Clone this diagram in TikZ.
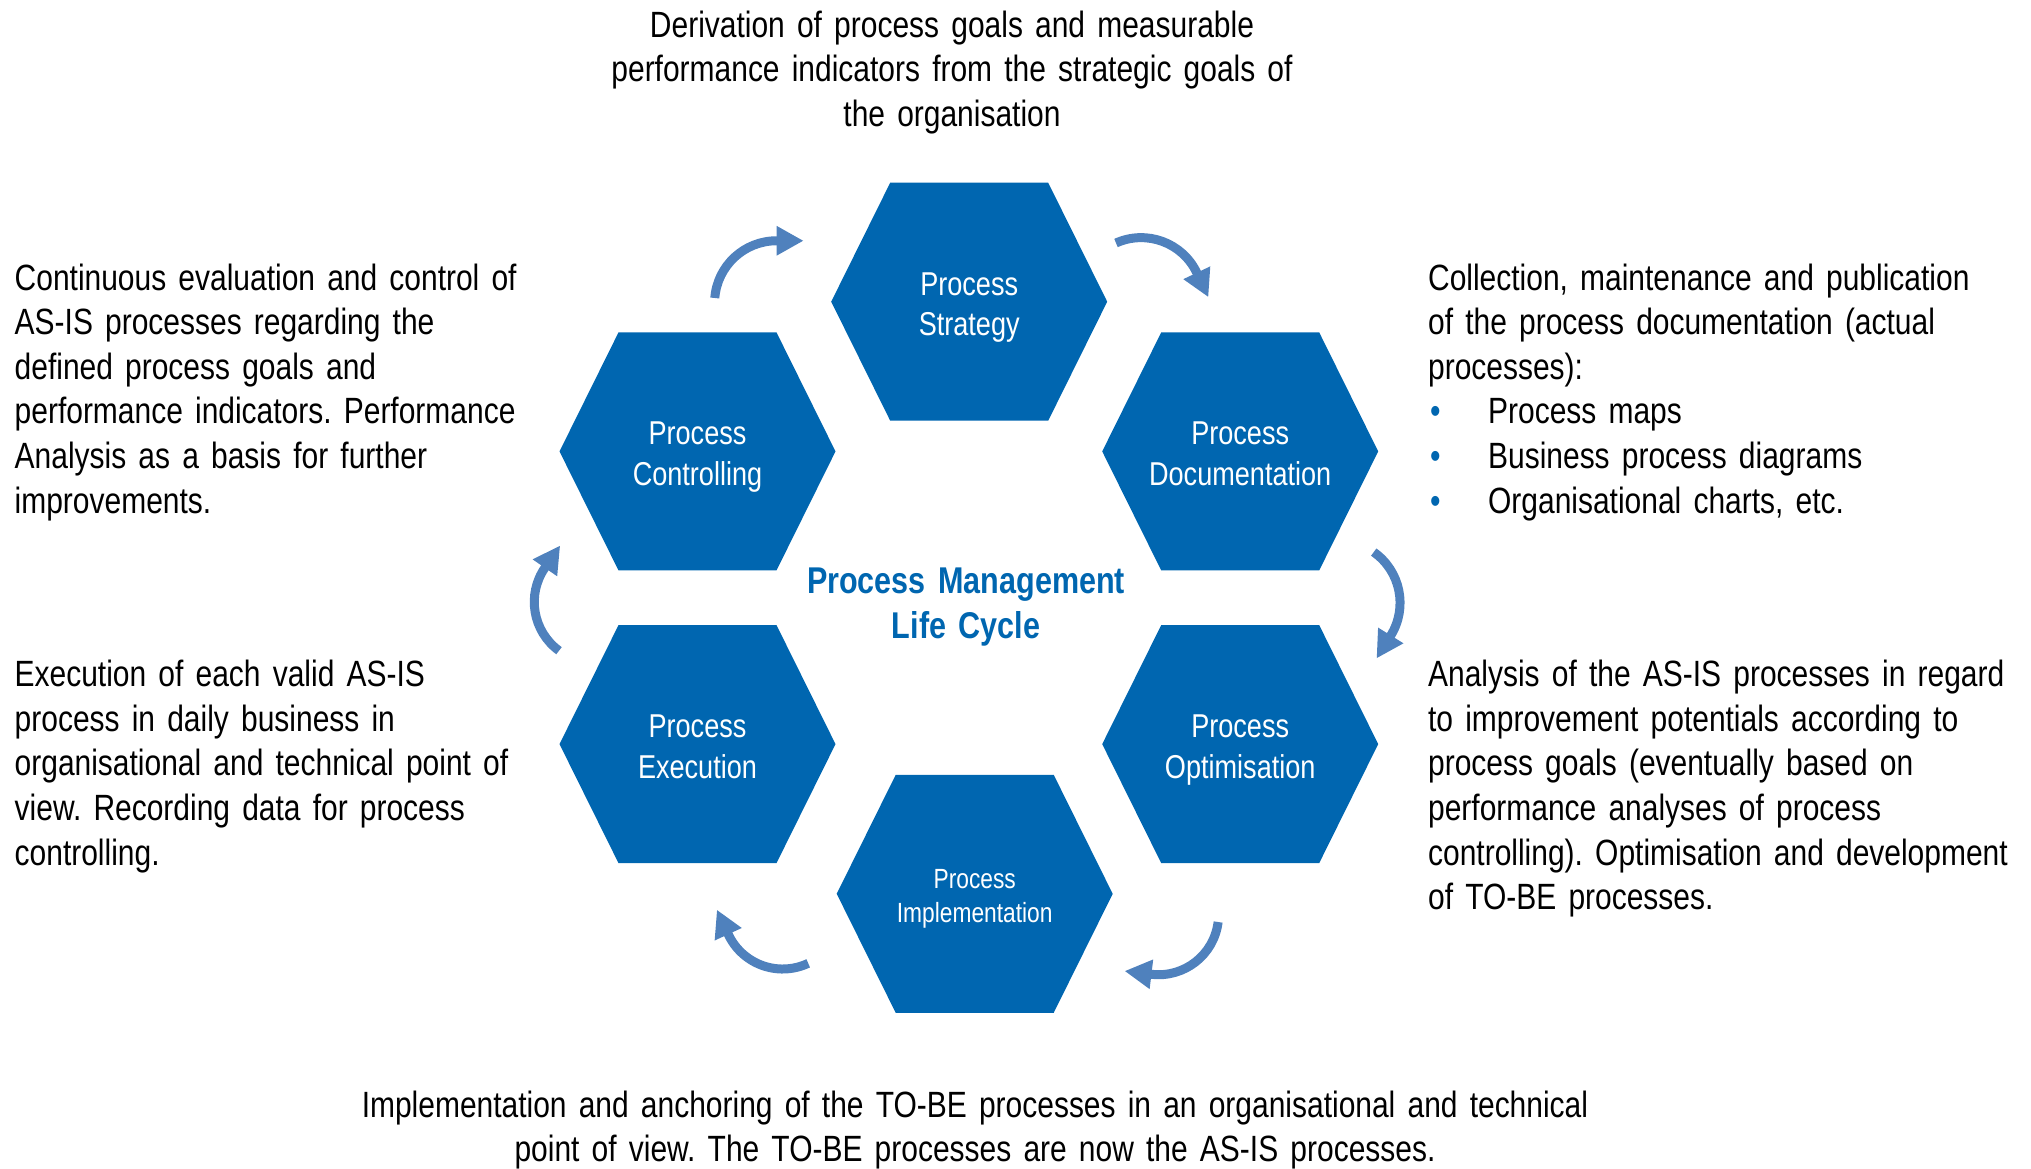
\documentclass[tikz,border=0pt]{standalone}
\usepackage{fontspec}
\IfFontExistsTF{Liberation Sans Narrow}
  {\setmainfont{Liberation Sans Narrow}}
  {\setmainfont[FakeStretch=0.82]{Liberation Sans}}
\usepackage{xcolor}
\usepackage{tikz}
\usetikzlibrary{
    arrows.meta,
    calc,
    positioning
}
\frenchspacing
\definecolor{hexblue}{RGB}{0,102,176}
\definecolor{arrowblue}{RGB}{79,129,189}
\newcommand{\pmbullet}{\makebox[6mm][l]{\hspace{0.2mm}\textcolor{hexblue}{\textbullet}}}
\tikzset{
  hexfill/.style = {
      fill=hexblue
  },
  phase/.style = {
      text=white,
      font=\fontsize{9.4}{11.6}\selectfont,
      align=center,
      text width=25mm,
      inner sep=0pt,
      anchor=base,
      yshift=0.66mm
  },
  small phase/.style = {
      phase,
      font=\fontsize{7.9}{9.6}\selectfont,
      yshift=-0.15mm
  },
  note/.style = {
      font=\fontsize{10.4}{12.7}\selectfont,
      align=left,
      text width=70mm,
      inner sep=0pt,
      anchor=base west
  },
  centre note/.style = {
      note,
      align=center,
      text width=150mm,
      anchor=base
  },
  title/.style = {
      font=\bfseries\fontsize{10.6}{12.9}\selectfont,
      text=hexblue,
      align=center,
      text width=50mm,
      inner sep=0pt,
      anchor=base
  },
  cycarrow/.style = {
      draw=arrowblue,
      line width=2.56pt,
      -{Triangle[length=7.7pt, width=7.9pt]}
  }
}
\begin{document}
\begin{tikzpicture}[x=0.1mm, y=0.1mm]
    \useasboundingbox (0,0) rectangle (2031,-1168);
    % Hexagons
    \foreach \name/\pos in {strat/{969.2,-301.7}, ctrl/{697.5,-451.4},
        docu/{1240.2,-451.4}, exec/{697.5,-744.1}, opti/{1240.2,-744.1},
        impl/{974.7,-893.8}}{
      \fill[hexfill, shift={(\pos)}] (-138,0) -- (-79,119) -- (79,119)
          -- (138,0) -- (79,-119) -- (-79,-119) -- cycle;
      \coordinate (\name) at (\pos);
    }
    % Nodes
    \node[phase] (strat-t) at (strat) {Process\\Strategy};
    \node[phase] (ctrl-t) at (ctrl) {Process\\Controlling};
    \node[phase] (docu-t) at (docu) {Process\\Documentation};
    \node[phase] (exec-t) at (exec) {Process\\Execution};
    \node[phase] (opti-t) at (opti) {Process\\Optimisation};
    \node[small phase] (impl-t) at (impl) {Process\\Implementation};
    \node[title] (cycle) at (966,-593.3) {Process Management\\Life Cycle};
    % Descriptions
    \node[centre note] (strat-d) at (952,-37.3) {Derivation of process goals and measurable\\
        performance indicators from the strategic goals of\\the organisation};
    \node[note] (ctrl-d) at (14,-290) {Continuous evaluation and control of\\
        AS-IS processes regarding the\\defined process goals and\\
        performance indicators. Performance\\Analysis as a basis for further\\improvements.};
    \node[note] (docu-d) at (1427.4,-290) {Collection, maintenance and publication\\
        of the process documentation (actual\\processes):\\
        \pmbullet Process maps\\\pmbullet Business process diagrams\\
        \pmbullet Organisational charts, etc.};
    \node[note] (exec-d) at (14,-686.7) {Execution of each valid AS-IS\\
        process in daily business in\\organisational and technical point of\\
        view. Recording data for process\\controlling.};
    \node[note] (opti-d) at (1427.4,-686.7) {Analysis of the AS-IS processes in regard\\
        to improvement potentials according to\\process goals (eventually based on\\
        performance analyses of process\\controlling). Optimisation and development\\
        of TO-BE processes.};
    \node[centre note] (impl-d) at (975,-1117) {Implementation and anchoring of the TO-BE processes in an organisational and technical\\
        point of view. The TO-BE processes are now the AS-IS processes.};
    % Arrows
    \coordinate (ctrl-out) at (714.8,-298.0);
    \coordinate (strat-out) at (1116.0,-243.0);
    \coordinate (docu-out) at (1373.7,-552.1);
    \coordinate (opti-out) at (1218.1,-922.0);
    \coordinate (impl-out) at (808.2,-963.3);
    \coordinate (exec-out) at (559.0,-650.7);
    \draw[cycarrow] (ctrl-out) arc[start angle=175.6, end angle=90, radius=62] -- ++(0:27);
    \draw[cycarrow] (strat-out) arc[start angle=114.1, end angle=25.4, radius=61.6] -- ++(-64.6:27);
    \draw[cycarrow] (docu-out) arc[start angle=54.9, end angle=-31.8, radius=62] -- ++(-121.8:27);
    \draw[cycarrow] (opti-out) arc[start angle=-7, end angle=-96.9, radius=60] -- ++(-186.9:27);
    \draw[cycarrow] (impl-out) arc[start angle=-64.8, end angle=-155.2, radius=60] -- ++(-245.2:27);
    \draw[cycarrow] (exec-out) arc[start angle=233.8, end angle=145.5, radius=60.4] -- ++(55.5:27);
\end{tikzpicture}
\end{document}
